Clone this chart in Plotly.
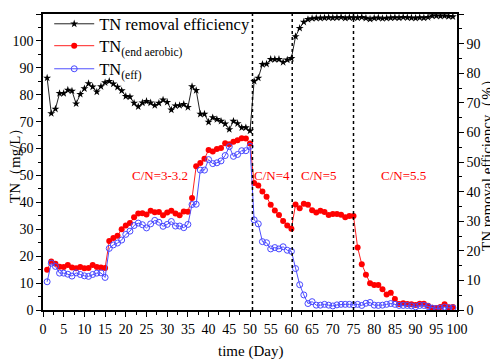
import plotly.graph_objects as go

days = list(range(1, 100))

removal_eff = [78.4, 66.4, 67.9, 73.2, 73.2, 74.3, 74.0, 69.7, 72.9, 74.8,
               76.5, 75.4, 73.7, 75.5, 76.8, 77.3, 76.4, 75.3, 74.1, 72.2,
               72.0, 69.9, 68.7, 70.0, 70.5, 70.0, 69.1, 69.9, 71.0, 70.2,
               67.6, 69.0, 69.1, 69.5, 68.5, 75.5, 74.2, 66.2, 66.2, 63.5,
               65.0, 64.4, 63.8, 62.9, 61.0, 63.8, 63.0, 61.6, 61.6, 60.5,
               77.3, 78.4, 83.0, 83.1, 84.7, 84.7, 84.7, 83.7, 84.5, 85.0,
               92.4, 95.2, 97.3, 98.2, 98.5, 98.6, 98.6, 98.7, 98.8, 98.7,
               98.8, 98.9, 98.6, 98.8, 98.8, 98.7, 98.9, 98.6, 98.3, 98.6,
               98.7, 98.5, 98.6, 98.7, 98.8, 98.7, 98.9, 98.8, 98.7, 98.6,
               98.8, 98.7, 98.9, 99.4, 99.4, 99.3, 99.4, 99.2, 99.1]

tn_end_aerobic = [15.0, 18.0, 17.2, 16.1, 16.0, 16.7, 15.8, 15.5, 16.0, 15.5,
                  15.6, 16.7, 16.0, 15.8, 15.6, 25.6, 26.8, 27.6, 30.0, 31.4,
                  32.3, 34.5, 35.9, 36.0, 35.5, 36.9, 36.3, 36.4, 35.2, 36.2,
                  36.9, 35.9, 35.2, 36.6, 36.5, 41.6, 53.4, 54.6, 56.2, 59.5,
                  58.9, 59.8, 60.2, 62.0, 61.6, 62.5, 63.1, 63.8, 63.7, 61.9,
                  47.2, 46.3, 44.0, 42.1, 39.1, 37.0, 35.3, 33.1, 31.4, 30.2,
                  39.2, 37.8, 39.5, 39.1, 37.1, 36.2, 36.9, 36.4, 35.3, 35.7,
                  35.7, 35.4, 34.5, 34.9, 34.9, 23.2, 17.0, 13.1, 9.9, 9.3,
                  9.3, 7.7, 5.8, 6.4, 4.1, 2.2, 2.5, 2.2, 2.1, 1.9,
                  2.3, 2.3, 1.6, 0.8, 0.7, 1.1, 2.1, 1.0, 1.1]

tn_eff = [10.5, 17.4, 16.2, 13.7, 13.7, 13.3, 12.6, 13.8, 13.2, 12.7,
          12.5, 13.2, 13.7, 13.8, 12.1, 22.9, 24.2, 24.9, 26.0, 28.1,
          29.3, 31.4, 32.3, 31.7, 30.5, 32.0, 33.3, 32.6, 31.1, 31.8,
          32.9, 31.2, 31.2, 30.6, 31.8, 39.2, 39.3, 52.0, 52.0, 55.9,
          54.4, 54.7, 55.4, 57.4, 60.7, 57.1, 57.8, 59.2, 59.2, 60.8,
          33.5, 32.0, 25.4, 25.0, 22.7, 23.2, 22.7, 23.5, 22.2, 21.8,
          15.4, 9.4, 5.6, 2.4, 3.1, 1.8, 1.8, 2.1, 1.8, 1.5,
          1.9, 2.1, 2.1, 2.1, 1.9, 2.1, 1.7, 2.5, 2.8, 1.8,
          1.7, 1.8, 2.1, 2.4, 2.1, 1.7, 1.7, 1.7, 1.5, 1.2,
          1.7, 1.7, 1.3, 0.7, 0.5, 0.7, 1.1, 0.8, 0.8]

phase_bounds = [50.6, 60.2, 75.0]
phase_labels = ["C/N=3-3.2", "C/N=4", "C/N=5", "C/N=5.5"]
phase_label_x = [28.2, 55.4, 66.6, 87.0]
phase_label_y = 50.0

FONT = "Liberation Serif"

fig = go.Figure()
fig.add_trace(go.Scatter(
    x=days, y=removal_eff, yaxis="y2", mode="lines+markers",
    name="TN removal efficiency", legend="legend",
    line=dict(color="#222222", width=1),
    marker=dict(symbol="star", size=6, color="black"),
))
fig.add_trace(go.Scatter(
    x=days, y=tn_end_aerobic, mode="lines+markers",
    name="TN<sub>(end aerobic)</sub>", legend="legend2",
    line=dict(color="#FF2020", width=1),
    marker=dict(symbol="circle", size=6, color="#FF0000"),
))
fig.add_trace(go.Scatter(
    x=days, y=tn_eff, mode="lines+markers",
    name="TN<sub>(eff)</sub>", legend="legend3",
    line=dict(color="#5050FF", width=1),
    marker=dict(symbol="circle-open", size=6, color="#4848FF", line=dict(width=1)),
))

for b in phase_bounds:
    fig.add_shape(type="line", xref="x", yref="paper", x0=b, x1=b, y0=0, y1=1,
                  line=dict(color="black", width=1.5, dash="dot"))

for t, x in zip(phase_labels, phase_label_x):
    fig.add_annotation(x=x, y=phase_label_y, xref="x", yref="y", text=t,
                       showarrow=False, font=dict(family=FONT, size=13, color="#FF0000"))

# axis titles
fig.add_annotation(x=0, y=0.5, xref="paper", yref="paper", text="TN（mg/L）",
                   textangle=-90, showarrow=False, xanchor="center", yanchor="middle",
                   xshift=-28, font=dict(family=FONT, size=15, color="black"))
fig.add_annotation(x=1, y=0.5, xref="paper", yref="paper", text="TN removal efficiency（%）",
                   textangle=-90, showarrow=False, xanchor="center", yanchor="middle",
                   xshift=30, font=dict(family=FONT, size=15, color="black"))
fig.add_annotation(x=0.5, y=0, xref="paper", yref="paper", text="time (Day)",
                   showarrow=False, xanchor="center", yanchor="middle",
                   yshift=-41, font=dict(family=FONT, size=15, color="black"))

axis_common = dict(
    showline=True, linecolor="black", linewidth=1.5,
    ticks="outside", ticklen=5, tickwidth=1, tickcolor="black",
    showgrid=False, zeroline=False, automargin=False,
    tickfont=dict(family=FONT, size=14, color="black"),
    minor=dict(ticks="outside", ticklen=3, tickcolor="black", tickwidth=1),
)

leg_common = dict(x=0.015, xanchor="left", yanchor="middle",
                  bgcolor="rgba(0,0,0,0)", font=dict(family=FONT, size=16.5),
                  itemwidth=40)

# page body adds an 8px offset, so the figure is sized to fit the 498x362 window
fig.update_layout(
    width=490, height=354,
    margin=dict(l=35, r=41, t=6, b=52, autoexpand=False),
    plot_bgcolor="white", paper_bgcolor="white",
    font=dict(family=FONT, color="black"),
    xaxis=dict(range=[0, 100], dtick=5, mirror=True, minor_dtick=2.5, **axis_common),
    yaxis=dict(range=[0, 110], dtick=10, minor_dtick=5, **axis_common),
    yaxis2=dict(range=[0, 100], dtick=10, overlaying="y", side="right",
                minor_dtick=5, **axis_common),
    legend=dict(y=0.966, **leg_common),
    legend2=dict(y=0.892, **leg_common),
    legend3=dict(y=0.814, **leg_common),
    showlegend=True,
)

fig.write_html("out.html", config={"displayModeBar": False})
